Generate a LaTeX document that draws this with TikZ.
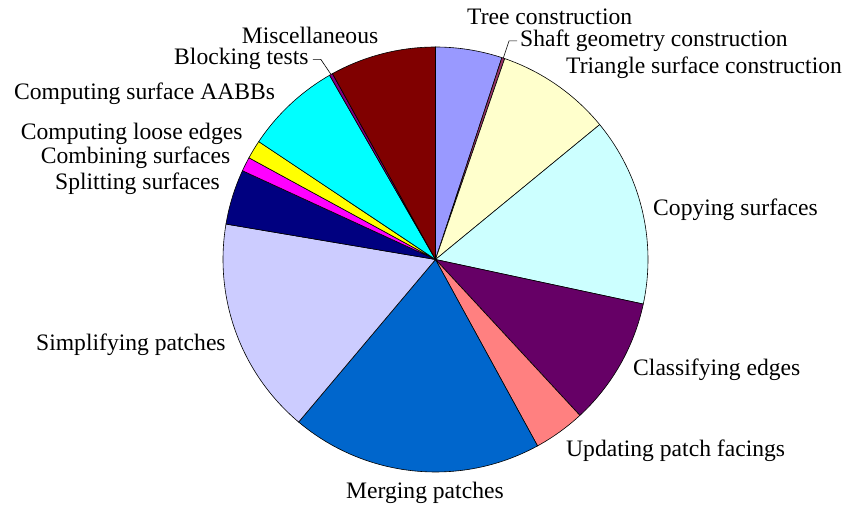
\documentclass[tikz,border=0pt]{standalone}
\usepackage{fontspec}
\setmainfont{Liberation Serif}
\usepackage{tikz}
\usetikzlibrary{calc}
\definecolor{treeblue}{HTML}{9999FF}
\definecolor{shaftpurple}{HTML}{993366}
\definecolor{trianglecream}{HTML}{FFFFCC}
\definecolor{copycyan}{HTML}{CCFFFF}
\definecolor{classplum}{HTML}{660066}
\definecolor{updatesalmon}{HTML}{FF8080}
\definecolor{mergeblue}{HTML}{0066CC}
\definecolor{simplifylav}{HTML}{CCCCFF}
\definecolor{splitnavy}{HTML}{000080}
\definecolor{combmagenta}{HTML}{FF00FF}
\definecolor{looseyellow}{HTML}{FFFF00}
\definecolor{aabbcyan}{HTML}{00FFFF}
\definecolor{blockpurple}{HTML}{800080}
\definecolor{miscmaroon}{HTML}{800000}
\tikzset{lbl/.style={anchor=base west, inner sep=0pt, font=\fontsize{23.6}{28}\selectfont}}

\begin{document}
\begin{tikzpicture} [x=1pt, y=1pt]
\useasboundingbox (0,0) rectangle (848,509);
\def\rad{212.5}
% slices, counterclockwise from start angle to end angle
\begin{scope}[shift={(435.5,249.5)}, line width=0.6pt]
\foreach \a/\b/\c in {71.8/90/treeblue, 71.0/71.8/shaftpurple, 39.4/71.0/trianglecream,
  -12.1/39.4/copycyan, -47.2/-12.1/classplum, -61.3/-47.2/updatesalmon,
  -130.1/-61.3/mergeblue, -189.6/-130.1/simplifylav, 155.3/170.4/splitnavy,
  151.4/155.3/combmagenta, 146.3/151.4/looseyellow, 119.9/146.3/aabbcyan,
  119.0/119.9/blockpurple, 90/119.0/miscmaroon} {
 \filldraw[fill=\c, draw=black] (0,0) -- (\a:\rad) arc (\a:\b:\rad) -- cycle;
}
\coordinate (shaftpt) at (71.4:\rad);
\coordinate (blockpt) at (119.45:\rad);
\end{scope}
% labels
\node[lbl] (tree) at (467,484) {Tree construction};
\node[lbl] (shaft) at (520,462.3) {Shaft geometry construction};
\node[lbl] (tri) at (566,435) {Triangle surface construction};
\node[lbl] (copy) at (653,293) {Copying surfaces};
\node[lbl] (class) at (633,134) {Classifying edges};
\node[lbl] (upd) at (566,52.3) {Updating patch facings};
\node[lbl] (merge) at (346,10.7) {Merging patches};
\node[lbl] (simp) at (36,159) {Simplifying patches};
\node[lbl] (split) at (55,319.7) {Splitting surfaces};
\node[lbl] (comb) at (40.7,345) {Combining surfaces};
\node[lbl] (loose) at (20.7,369.7) {Computing loose edges};
\node[lbl] (aabb) at (14,409.7) {Computing surface AABBs};
\node[lbl] (block) at (174,444) {Blocking tests};
\node[lbl] (misc) at (241.7,465.7) {Miscellaneous};
% leader lines
\draw[line width=0.6pt] ($(shaft.west)+(-3,0)$) -- ++(-8,0) -- (shaftpt);
\draw[line width=0.6pt] ($(block.east)+(4,0)$) -- ++(8,0) -- (blockpt);
\end{tikzpicture}
\end{document}
